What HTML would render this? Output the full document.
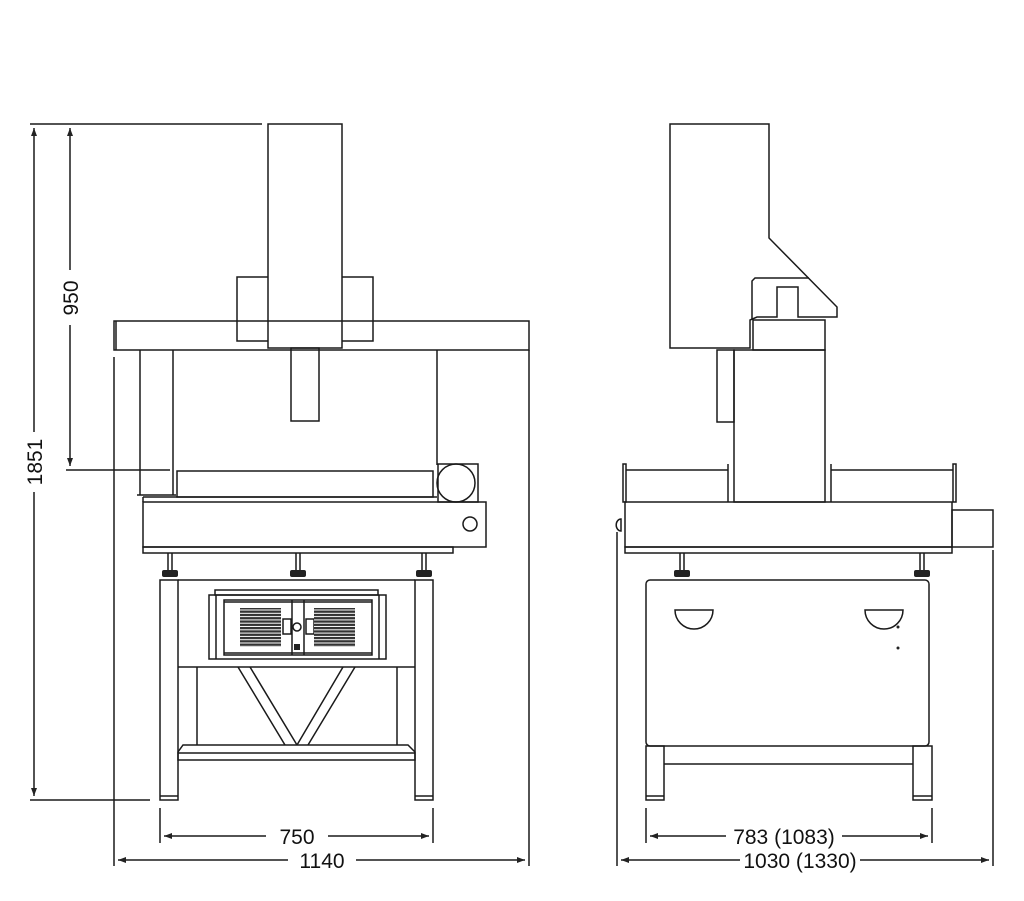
<!DOCTYPE html>
<html><head><style>html,body{margin:0;padding:0;background:#fff}svg{display:block}</style></head>
<body>
<svg width="1024" height="901" viewBox="0 0 1024 901" xmlns="http://www.w3.org/2000/svg">
<defs>
<pattern id="vent" width="4" height="3.3" patternUnits="userSpaceOnUse"><rect width="4" height="3.3" fill="#fff"/><rect width="4" height="2.3" fill="#333"/></pattern>
<marker id="ar" markerWidth="8" markerHeight="6" refX="8" refY="3" orient="auto-start-reverse" markerUnits="userSpaceOnUse"><path d="M0,0 L8,3 L0,6 z" fill="#222"/></marker>
</defs>
<g fill="none" stroke="#1a1a1a" stroke-width="1.5">
<line x1="30" y1="124" x2="262" y2="124"/>
<line x1="34" y1="128" x2="34" y2="432" marker-start="url(#ar)"/>
<line x1="34" y1="492" x2="34" y2="796" marker-end="url(#ar)"/>
<line x1="30" y1="800" x2="150" y2="800"/>
<line x1="70" y1="128" x2="70" y2="270" marker-start="url(#ar)"/>
<line x1="70" y1="325" x2="70" y2="466" marker-end="url(#ar)"/>
<line x1="66" y1="470" x2="170" y2="470"/>
<line x1="114" y1="357" x2="114" y2="866"/>
<line x1="529" y1="350" x2="529" y2="866"/>
<line x1="160" y1="808" x2="160" y2="843"/>
<line x1="433" y1="808" x2="433" y2="843"/>
<line x1="164" y1="836" x2="266" y2="836" marker-start="url(#ar)"/>
<line x1="328" y1="836" x2="429" y2="836" marker-end="url(#ar)"/>
<line x1="118" y1="860" x2="288" y2="860" marker-start="url(#ar)"/>
<line x1="356" y1="860" x2="525" y2="860" marker-end="url(#ar)"/>
<rect x="268" y="124" width="74" height="224"/>
<path d="M268,277 H237 V341 H268 M342,277 H373 V341 H342"/>
<rect x="114" y="321" width="415" height="29"/>
<line x1="116" y1="321" x2="116" y2="350"/>
<rect x="291" y="348" width="28" height="73"/>
<path d="M140,350 V495 M173,350 V495 M437,350 V465"/>
<path d="M137,495 H176"/>
<rect x="177" y="471" width="256" height="26"/>
<rect x="438" y="464" width="40" height="38"/>
<circle cx="456" cy="483" r="19"/>
<path d="M143,497 H437 M143,497 V502"/>
<rect x="143" y="502" width="343" height="45"/>
<rect x="143" y="547" width="310" height="6"/>
<circle cx="470" cy="524" r="7"/>
<path d="M168,553 V570 M172,553 V570 M296,553 V570 M300,553 V570 M422,553 V570 M426,553 V570"/>
</g>
<g fill="#222">
<rect x="162" y="570" width="16" height="7" rx="2"/>
<rect x="290" y="570" width="16" height="7" rx="2"/>
<rect x="416" y="570" width="16" height="7" rx="2"/>
<rect x="674" y="570" width="16" height="7" rx="2"/>
<rect x="914" y="570" width="16" height="7" rx="2"/>
<circle cx="898" cy="627" r="1.5"/>
<circle cx="898" cy="648" r="1.5"/>
<rect x="294" y="644" width="6" height="6"/>
</g>
<g fill="none" stroke="#1a1a1a" stroke-width="1.5">
<rect x="160" y="580" width="18" height="220"/>
<rect x="415" y="580" width="18" height="220"/>
<line x1="160" y1="796" x2="178" y2="796"/><line x1="415" y1="796" x2="433" y2="796"/>
<line x1="178" y1="580" x2="415" y2="580"/>
<line x1="178" y1="667" x2="415" y2="667"/>
<path d="M197,667 V745 M397,667 V745"/>
<path d="M238,667 L285,745 M250,667 L297,745 M343,667 L297,745 M355,667 L308,745"/>
<path d="M183,745 H408 L415,752 V760 H178 V752 Z M178,753 H415"/>
<rect x="215" y="590" width="163" height="5"/>
<rect x="209" y="595" width="177" height="64"/>
<path d="M216,595 V659 M379,595 V659 M224,600 H372 V655 H224 Z M224,602 H372 M224,653 H372 M292,600 V655 M304,600 V655"/>
<rect x="283" y="619" width="8" height="15"/>
<rect x="306" y="619" width="8" height="15"/>
<circle cx="297" cy="627" r="4"/>
<rect x="240" y="608" width="41" height="39" fill="url(#vent)" stroke="none"/>
<rect x="314" y="608" width="41" height="39" fill="url(#vent)" stroke="none"/>
<!-- RIGHT VIEW -->
<path d="M670,124 H769 V238 L837,307 V317 H798 V287 H777 V317 H757 L750,320 V348 H670 Z"/>
<path d="M752,320 V281 L755,278 H809"/>
<rect x="753" y="320" width="72" height="30"/>
<rect x="734" y="350" width="91" height="152"/>
<rect x="717" y="350" width="17" height="72"/>
<path d="M626,470 H728 M831,470 H953 M728,464 V502 M831,464 V502"/>
<rect x="623" y="464" width="3" height="38"/>
<rect x="953" y="464" width="3" height="38"/>
<rect x="625" y="502" width="327" height="45"/>
<rect x="625" y="547" width="327" height="6"/>
<rect x="952" y="510" width="41" height="37"/>
<path d="M621,519 a4,5 0 1 0 0,12 Z"/>
<path d="M680,553 V570 M684,553 V570 M920,553 V570 M924,553 V570"/>
<rect x="646" y="580" width="283" height="166" rx="4"/>
<path d="M675,610 A19,19 0 0 0 713,610 Z"/>
<path d="M865,610 A19,19 0 0 0 903,610 Z"/>
<rect x="646" y="746" width="18" height="54"/>
<rect x="913" y="746" width="19" height="54"/>
<line x1="646" y1="796" x2="664" y2="796"/><line x1="913" y1="796" x2="932" y2="796"/>
<line x1="664" y1="764" x2="913" y2="764"/>
<line x1="617" y1="532" x2="617" y2="866"/>
<line x1="993" y1="550" x2="993" y2="866"/>
<line x1="646" y1="808" x2="646" y2="843"/>
<line x1="932" y1="808" x2="932" y2="843"/>
<line x1="650" y1="836" x2="726" y2="836" marker-start="url(#ar)"/>
<line x1="842" y1="836" x2="928" y2="836" marker-end="url(#ar)"/>
<line x1="621" y1="860" x2="740" y2="860" marker-start="url(#ar)"/>
<line x1="860" y1="860" x2="989" y2="860" marker-end="url(#ar)"/>
</g>
<g font-family="Liberation Sans, sans-serif" font-size="21" fill="#111" text-anchor="middle">
<text x="297" y="844">750</text>
<text x="322" y="868">1140</text>
<text x="784" y="844">783 (1083)</text>
<text x="800" y="868">1030 (1330)</text>
<text transform="translate(78,298) rotate(-90)">950</text>
<text transform="translate(42,462) rotate(-90)">1851</text>
</g>
</svg>
</body></html>
